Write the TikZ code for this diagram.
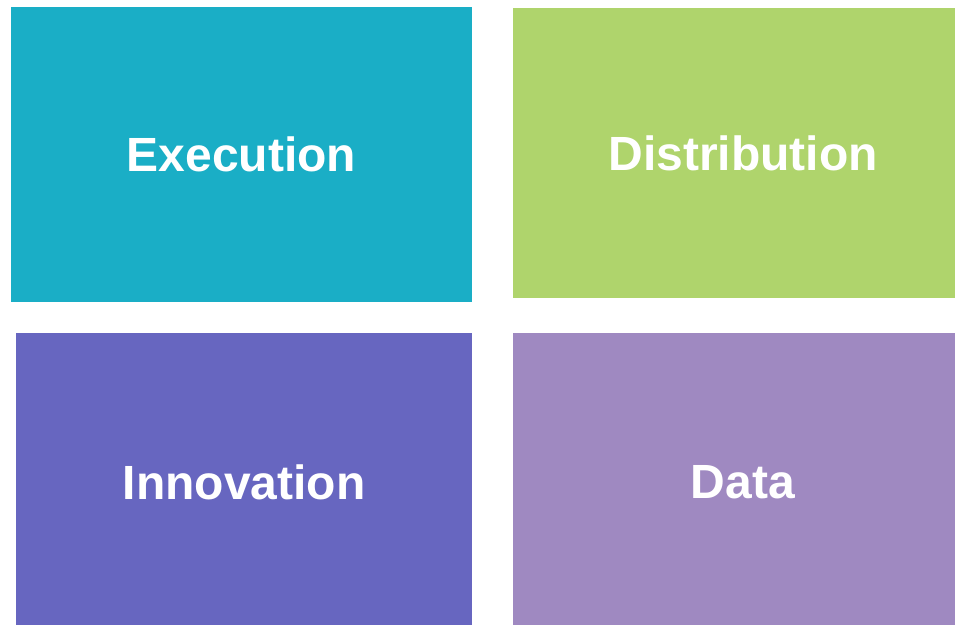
\documentclass[tikz,border=0pt]{standalone}
\usepackage{fontspec}
\setmainfont{Liberation Sans}
\definecolor{tealtile}{HTML}{1AAEC6}
\definecolor{limetile}{HTML}{AFD46C}
\definecolor{indigotile}{HTML}{6766C0}
\definecolor{lilactile}{HTML}{9F89C1}
\tikzset{
  tile/.style={draw=none,inner sep=0pt,outer sep=0pt,text=white,
    font=\bfseries\fontsize{48}{57}\selectfont}
}
\begin{document}
\begin{tikzpicture}[x=1pt,y=-1pt]
\useasboundingbox (0,0) rectangle (955,624);
\clip (0,0) rectangle (955,624);
\node[tile,fill=tealtile,minimum width=461,minimum height=295] (execution) at (241.5,154.5) {Execution};
\node[tile,fill=limetile,minimum width=460,minimum height=290] (distribution) at (743,153) {Distribution};
\node[tile,fill=indigotile,minimum width=456,minimum height=298] (innovation) at (244,482) {Innovation};
\node[tile,fill=lilactile,minimum width=460,minimum height=298] (data) at (743,482) {Data};
\end{tikzpicture}
\end{document}
